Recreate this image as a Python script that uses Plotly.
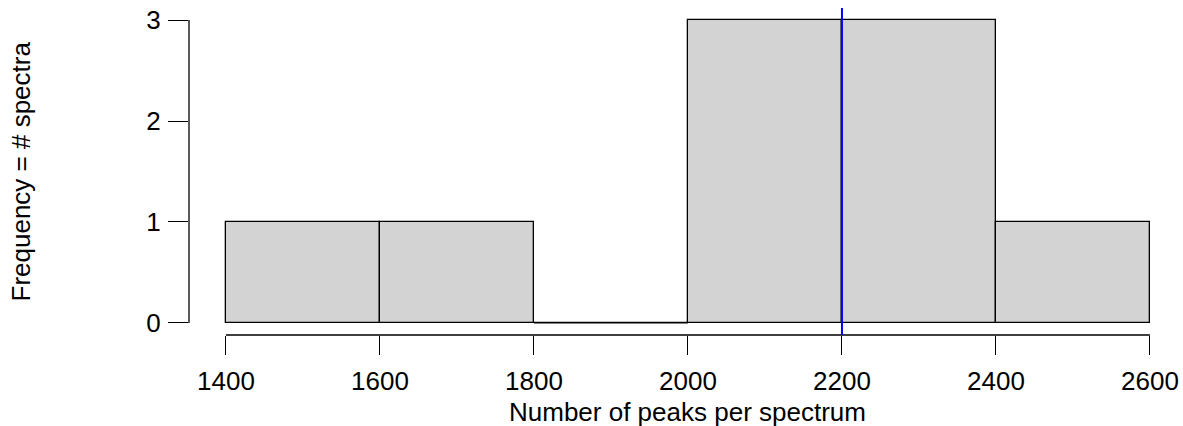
import plotly.graph_objects as go

bin_edges = [1400, 1600, 1800, 2000, 2200, 2400, 2600]
counts = [1, 1, 0, 3, 3, 1]
vline_x = 2200
x_ticks = [1400, 1600, 1800, 2000, 2200, 2400, 2600]
y_ticks = [0, 1, 2, 3]
x_label = "Number of peaks per spectrum"
y_label = "Frequency = # spectra"

centers = [(bin_edges[i] + bin_edges[i + 1]) / 2 for i in range(len(counts))]
widths = [bin_edges[i + 1] - bin_edges[i] for i in range(len(counts))]

W, H = 1183, 426
left, top, bottom = 189, 8, 91
plot_w = W - left
px_per_unit = 0.77
span = bin_edges[-1] - bin_edges[0]
x0 = bin_edges[0] - 0.04 * span
x1 = x0 + plot_w / px_per_unit
x_center = (bin_edges[0] + bin_edges[-1]) / 2
ymax = max(counts)
y_range = [-0.04 * ymax, ymax * 1.04]

LW = 1.3

fig = go.Figure()
fig.add_trace(go.Bar(
    x=centers, y=counts, width=widths,
    marker=dict(color="#D3D3D3", line=dict(color="black", width=LW)),
    hoverinfo="x+y",
))

shapes = []
for i, c in enumerate(counts):
    if c == 0:
        shapes.append(dict(type="line", xref="x", yref="y",
                           x0=bin_edges[i], x1=bin_edges[i + 1], y0=0, y1=0,
                           line=dict(color="black", width=LW)))
shapes.append(dict(type="line", xref="x", yref="paper",
                   x0=x_ticks[0], x1=x_ticks[-1], y0=0, y1=0,
                   line=dict(color="black", width=LW)))
shapes.append(dict(type="line", xref="paper", yref="y",
                   x0=0, x1=0, y0=y_ticks[0], y1=y_ticks[-1],
                   line=dict(color="black", width=LW)))
shapes.append(dict(type="line", xref="x", yref="paper",
                   x0=vline_x, x1=vline_x, y0=0, y1=1,
                   line=dict(color="#0000FF", width=2)))

font = dict(family="Liberation Sans, Arial, sans-serif", size=26, color="black")

fig.update_layout(
    width=W, height=H,
    margin=dict(l=left, r=0, t=top, b=bottom),
    paper_bgcolor="white", plot_bgcolor="white",
    showlegend=False, bargap=0,
    font=font,
    shapes=shapes,
    xaxis=dict(range=[x0, x1], tickvals=x_ticks, ticks="outside", ticklen=19,
               tickcolor="black", tickwidth=LW, showgrid=False, zeroline=False,
               showline=False, tickfont=font, ticklabelstandoff=4),
    yaxis=dict(range=y_range, tickvals=y_ticks, ticks="outside", ticklen=20,
               tickcolor="black", tickwidth=LW, showgrid=False, zeroline=False,
               showline=False, tickfont=font, ticklabelstandoff=2),
    annotations=[
        dict(text=x_label, xref="x", yref="paper",
             x=x_center, y=0, yshift=-(412 - (H - bottom)), showarrow=False,
             font=font, xanchor="center", yanchor="middle"),
        dict(text=y_label, xref="paper", yref="paper",
             x=0, xshift=-(left - 20), y=0.5, showarrow=False,
             textangle=-90, font=font, xanchor="center", yanchor="middle"),
    ],
)

fig.write_html("out.html", config={"displayModeBar": False},
               post_script="document.body.style.margin='0';")
